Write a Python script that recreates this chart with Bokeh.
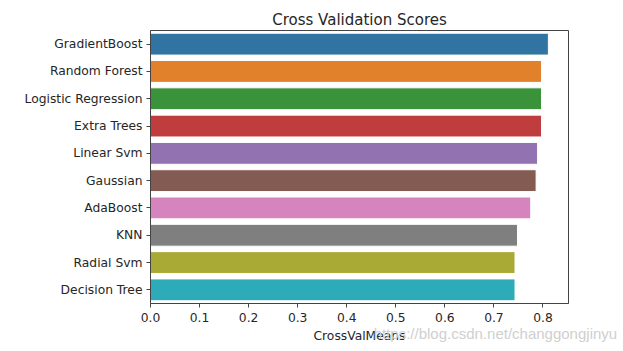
from bokeh.plotting import figure
from bokeh.models import FixedTicker, NumeralTickFormatter, Range1d, LinearAxis, ColumnDataSource
from bokeh.embed import file_html
from bokeh.resources import INLINE

models = ["GradientBoost", "Random Forest", "Logistic Regression", "Extra Trees",
          "Linear Svm", "Gaussian", "AdaBoost", "KNN", "Radial Svm", "Decision Tree"]
scores = [0.811, 0.797, 0.797, 0.797, 0.789, 0.786, 0.775, 0.748, 0.743, 0.743]
colors = ["#3274a1", "#e1812c", "#3a923a", "#c03d3e", "#9372b2",
          "#845b53", "#d684bd", "#7f7f7f", "#a9aa35", "#2eabb8"]
x_ticks = [0.0, 0.1, 0.2, 0.3, 0.4, 0.5, 0.6, 0.7, 0.8]
watermark = "https://blog.csdn.net/changgongjinyu"

src = ColumnDataSource(dict(model=models, score=scores, color=colors))

p = figure(width=623, height=351, y_range=list(reversed(models)),
           x_range=Range1d(0, 0.852), output_backend="svg", toolbar_location=None,
           title="Cross Validation Scores")
p.min_border_left = 150
p.min_border_right = 55
p.min_border_top = 30
p.min_border_bottom = 48
p.background_fill_color = "white"
p.border_fill_color = "white"
p.outline_line_color = "#444444"
p.outline_line_width = 1

p.hbar(y="model", right="score", left=0, height=0.8, fill_color="color",
       line_color="white", line_width=1, source=src)

p.xgrid.visible = False
p.ygrid.visible = False

p.title.align = "center"
p.title.text_font = "DejaVu Sans"
p.title.text_font_size = "15px"
p.title.text_font_style = "normal"
p.title.text_color = "#262626"
p.title.offset = 0
p.title.standoff = 4

for ax in (p.xaxis[0], p.yaxis[0]):
    ax.axis_line_color = "#444444"
    ax.major_tick_line_color = "#444444"
    ax.major_tick_out = 4
    ax.major_tick_in = 0
    ax.minor_tick_line_color = None
    ax.major_label_text_font = "DejaVu Sans"
    ax.major_label_text_font_size = "12.3px"
    ax.major_label_text_color = "#262626"

p.xaxis.ticker = FixedTicker(ticks=x_ticks)
p.xaxis.formatter = NumeralTickFormatter(format="0.0")
p.xaxis.axis_label = "CrossValMeans"
p.xaxis.axis_label_text_font = "DejaVu Sans"
p.xaxis.axis_label_text_font_size = "12.3px"
p.xaxis.axis_label_text_font_style = "normal"
p.xaxis.axis_label_text_color = "#262626"
p.xaxis.axis_label_standoff = 4
p.yaxis.major_label_standoff = 4

wm_axis = LinearAxis(ticker=FixedTicker(ticks=[0.703]),
                     major_label_overrides={0.703: watermark})
wm_axis.axis_line_color = None
wm_axis.major_tick_line_color = None
wm_axis.minor_tick_line_color = None
wm_axis.major_tick_out = 0
wm_axis.major_tick_in = 0
wm_axis.major_label_standoff = -21
wm_axis.major_label_text_font = "Liberation Sans"
wm_axis.major_label_text_font_size = "15px"
wm_axis.major_label_text_color = "#cfcfcf"
p.add_layout(wm_axis, "below")

open("out.html", "w").write(file_html(p, INLINE))
